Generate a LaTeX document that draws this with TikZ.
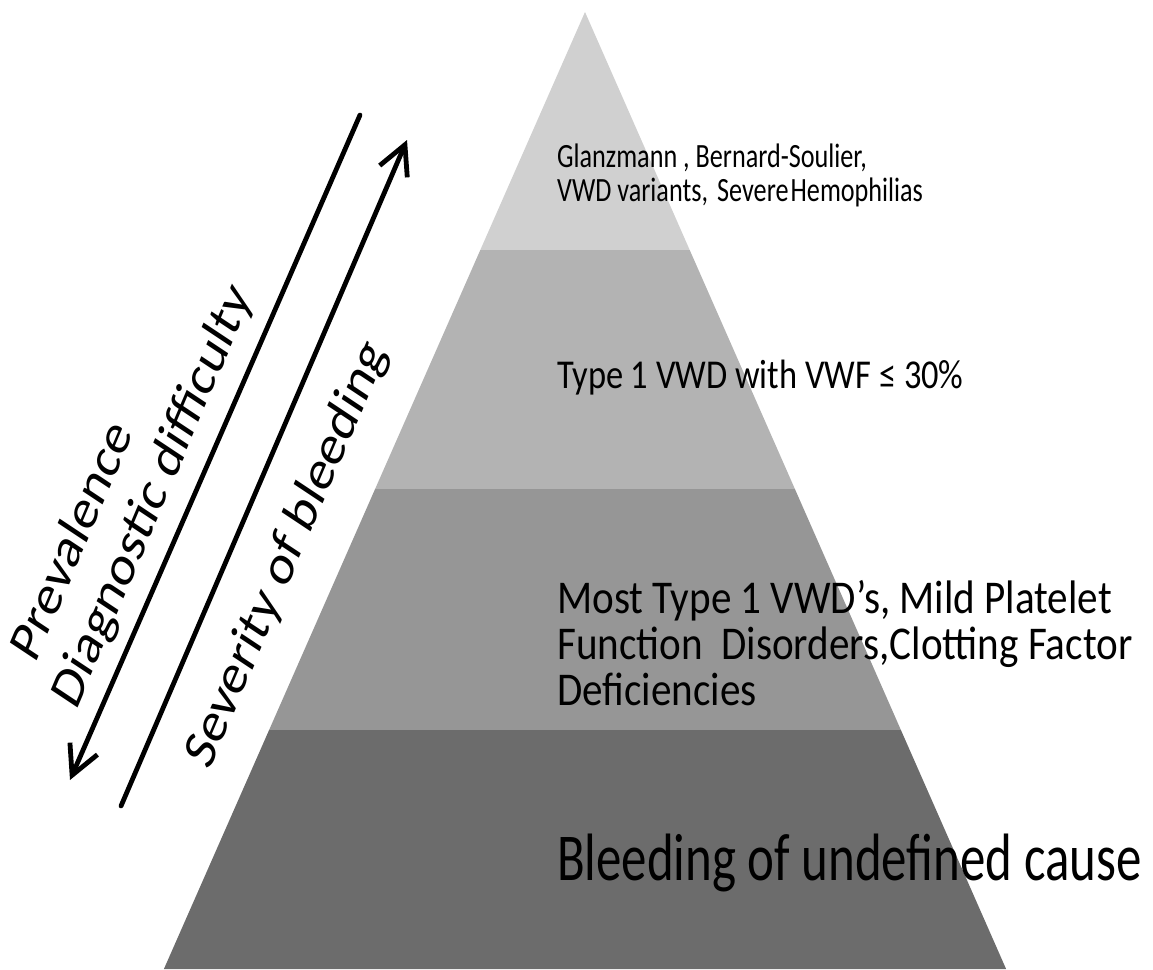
\documentclass[tikz,border=0pt]{standalone}
\usepackage{fontspec}
\setmainfont{Carlito}
\usetikzlibrary{arrows.meta}
\definecolor{tierone}{HTML}{D0D0D0}
\definecolor{tiertwo}{HTML}{B3B3B3}
\definecolor{tierthree}{HTML}{969696}
\definecolor{tierfour}{HTML}{6C6C6C}
\tikzset{
	tiertext/.style={anchor=base west, inner sep=0pt, align=left, text=black},
	sidetext/.style={anchor=base west, inner sep=0pt, align=left, font=\fontsize{59}{67}\selectfont, xscale=0.8, rotate=62},
	axisarrow/.style={line width=4.8pt, line cap=round, -{Straight Barb[length=29pt,width=30pt]}}
}

\begin{document}
\begin{tikzpicture}[x=1pt, y=-1pt]
			%%%%% START %%%%%
			\useasboundingbox (0,0) rectangle (1153,969);
			
			\coordinate (apex) at (585,12);
			\coordinate (l1) at (480.3,250);
			\coordinate (r1) at (689.7,250);
			\coordinate (l2) at (375.1,489);
			\coordinate (r2) at (794.9,489);
			\coordinate (l3) at (269.1,730);
			\coordinate (r3) at (900.9,730);
			\coordinate (l4) at (163.9,969);
			\coordinate (r4) at (1006.1,969);
			
			\fill[tierone] (apex) -- (r1) -- (l1) -- cycle;
			\fill[tiertwo] (l1) -- (r1) -- (r2) -- (l2) -- cycle;
			\fill[tierthree] (l2) -- (r2) -- (r3) -- (l3) -- cycle;
			\fill[tierfour] (l3) -- (r3) -- (r4) -- (l4) -- cycle;
			
			% base anchor sits on the last line
			\node[tiertext, xscale=0.77, font=\fontsize{34}{34}\selectfont] (glanz) at (557,201) {Glanzmann , Bernard-Soulier,\\VWD variants,\hspace{0.35em}Severe\hspace{0.08em}Hemophilias};
			\node[tiertext, xscale=0.84, font=\fontsize{41}{49}\selectfont] (typeone) at (557,388) {Type 1 VWD with VWF ≤ 30\%};
			\node[tiertext, xscale=0.875, font=\fontsize{47}{46}\selectfont] (mosttype) at (557,705) {Most Type 1 VWD’s, Mild Platelet\\Function\ \ Disorders,Clotting Factor\\Deficiencies};
			\node[tiertext, xscale=0.76, font=\fontsize{67}{80}\selectfont] (undef) at (557,880) {Bleeding of undefined cause};
			
			\coordinate (prevtop) at (360,115);
			\coordinate (prevtip) at (70,780);
			\coordinate (sevfoot) at (121,806);
			\coordinate (sevtip) at (407,140);
			\draw[axisarrow] (prevtop) -- (prevtip);
			\draw[axisarrow] (sevfoot) -- (sevtip);
			
			\node[sidetext] (prev) at (76,712) {\hspace{0.3em}Prevalence\\Diagnostic difficulty};
			\node[sidetext] (sev) at (209,772) {Severity of bleeding};
			%%%%% END %%%%%
\end{tikzpicture}
\end{document}
